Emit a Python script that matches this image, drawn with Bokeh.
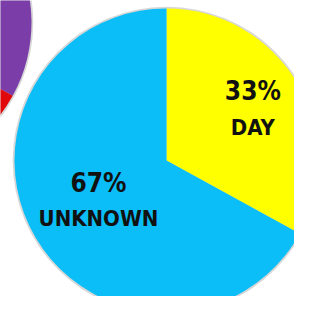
import numpy as np
from bokeh.plotting import figure
from bokeh.models import ColumnDataSource, Range1d
from bokeh.core.properties import value
from bokeh.embed import file_html
from bokeh.resources import INLINE

# ---- data ----
labels = ["DAY", "UNKNOWN"]
values = [33, 67]
colors = ["#FFFF00", "#0BBEF7"]

left_labels = ["A", "B"]
left_values = [33, 67]
left_colors = ["#7B3DA8", "#E0080A"]

right_labels = ["A"]
right_values = [100]
right_colors = ["#7B3DA8"]

# ---- layout (pixel-like coordinates, y up) ----
W, H = 294, 296
R = 152
main_c = (166, 136)
left_c = (-121, 274)
right_c = (450, 274)
label_frac = [0.66, 0.52]

p = figure(width=W, height=H, output_backend="svg", toolbar_location=None,
           x_range=Range1d(0, W), y_range=Range1d(0, H),
           min_border=0, min_border_left=0, min_border_right=0,
           min_border_top=0, min_border_bottom=0)
p.axis.visible = False
p.grid.visible = False
p.outline_line_color = None
p.background_fill_color = "white"


def pie(center, vals, cols, names):
    v = np.array(vals, dtype=float)
    frac = v / v.sum()
    cum = np.concatenate([[0], np.cumsum(frac)])
    p.circle(x=[center[0]], y=[center[1]], radius=R + 1.8, fill_color="#8c8c8c",
             fill_alpha=0.35, line_color=None)
    if len(v) == 1:
        p.circle(x=[center[0]], y=[center[1]], radius=R, fill_color=cols[0],
                 line_color=None)
    else:
        start = np.pi / 2 - 2 * np.pi * cum[1:]
        end = np.pi / 2 - 2 * np.pi * cum[:-1]
        src = ColumnDataSource(dict(x=[center[0]] * len(v), y=[center[1]] * len(v),
                                    start=start, end=end, color=cols, name=names))
        p.wedge(x="x", y="y", radius=R, start_angle="start", end_angle="end",
                fill_color="color", line_color=None, source=src)
    return frac, cum


pie(left_c, left_values, left_colors, left_labels)
pie(right_c, right_values, right_colors, right_labels)
frac, cum = pie(main_c, values, colors, labels)

mid = 2 * np.pi * (cum[:-1] + cum[1:]) / 2  # clockwise from top
lx = main_c[0] + np.array(label_frac) * R * np.sin(mid)
ly = main_c[1] + np.array(label_frac) * R * np.cos(mid)
pct = [f"{int(round(f * 100))}%" for f in frac]
lsrc = ColumnDataSource(dict(x=lx, y=ly, pct=pct, name=labels))

p.text(x="x", y="y", text="pct", source=lsrc, text_align="center",
       text_baseline="middle", y_offset=-18, text_font=value("DejaVu Sans Condensed"),
       text_font_style="bold", text_font_size="26px", text_color="#111111")
p.text(x="x", y="y", text="name", source=lsrc, text_align="center",
       text_baseline="middle", y_offset=18, text_font=value("DejaVu Sans Condensed"),
       text_font_style="bold", text_font_size="22px", text_color="#111111")

open("out.html", "w").write(file_html(p, INLINE))
